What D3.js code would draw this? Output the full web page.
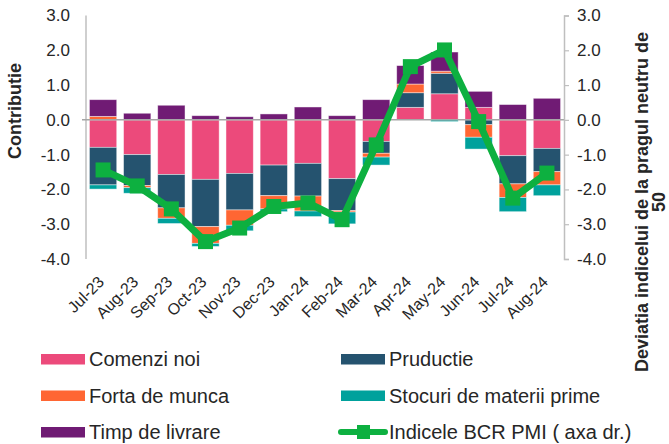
<!DOCTYPE html>
<html>
<head>
<meta charset="utf-8">
<script src="https://cdn.jsdelivr.net/npm/d3@7"></script>
<style>
    body { margin: 0; background: #fff; }
    svg text { font-family: "Liberation Sans", Arial, sans-serif; fill: #262626; }
</style>
</head>
<body>
<svg id="chart" width="669" height="444"></svg>
<script>
// date
var months = ['Jul-23', 'Aug-23', 'Sep-23', 'Oct-23', 'Nov-23', 'Dec-23', 'Jan-24',
    'Feb-24', 'Mar-24', 'Apr-24', 'May-24', 'Jun-24', 'Jul-24', 'Aug-24'];
var comenzi   = [-0.79, -1.00, -1.57, -1.71, -1.54, -1.30, -1.25, -1.69, -0.62, 0.36, 0.75, 0.36, -1.03, -0.82];
var productie = [-1.08, -0.89, -0.96, -1.36, -1.05, -0.88, -0.94, -0.92, -0.34, 0.42, 0.59, -0.14, -0.81, -0.67];
var forta     = [0.10, -0.06, -0.30, -0.48, -0.44, -0.38, -0.43, -0.04, -0.11, 0.25, 0.06, -0.36, -0.39, -0.38];
var stocuri   = [-0.12, -0.16, -0.15, -0.09, -0.16, -0.08, -0.16, -0.34, -0.23, 0.00, -0.05, -0.34, -0.41, -0.31];
var timp      = [0.48, 0.19, 0.42, 0.12, 0.09, 0.17, 0.37, 0.12, 0.58, 0.53, 0.55, 0.46, 0.44, 0.62];
var pmi       = [-1.44, -1.90, -2.56, -3.50, -3.11, -2.49, -2.39, -2.87, -0.72, 1.53, 2.01, -0.05, -2.25, -1.53];
var y_ticks = [3, 2, 1, 0, -1, -2, -3, -4];

var series = [
    {key: 'comenzi', name: 'Comenzi noi', values: comenzi, color: '#EC4A7B'},
    {key: 'productie', name: 'Pruductie', values: productie, color: '#25536F'},
    {key: 'forta', name: 'Forta de munca', values: forta, color: '#FF6633'},
    {key: 'stocuri', name: 'Stocuri de materii prime', values: stocuri, color: '#00A19C'},
    {key: 'timp', name: 'Timp de livrare', values: timp, color: '#701B74'}
];
var green = '#0DB040';

var svg = d3.select('#chart');
var left_x = 86, right_x = 564;

// format cu cratima normala, nu semnul minus unicode
var fmt = function(d) { return d.toFixed(1); };

var x = d3.scaleBand()
    .domain(months)
    .range([left_x, right_x])
    .paddingInner(0.2)
    .paddingOuter(0.1);
var y = d3.scaleLinear()
    .domain([-4, 3])
    .range([259, 15.5]);

// tabel pentru stack
var table = months.map(function(m, i) {
    var row = {month: m};
    series.forEach(function(s) { row[s.key] = s.values[i]; });
    return row;
});
var stacked = d3.stack()
    .keys(series.map(function(s) { return s.key; }))
    .offset(d3.stackOffsetDiverging)(table);

// bare
svg.append('g')
    .selectAll('g')
    .data(stacked)
    .enter()
    .append('g')
    .attr('fill', function(d, i) { return series[i].color; })
    .selectAll('rect')
    .data(function(d) { return d; })
    .enter()
    .append('rect')
    .attr('x', function(d) { return x(d.data.month); })
    .attr('width', x.bandwidth())
    .attr('y', function(d) { return y(Math.max(d[0], d[1])); })
    .attr('height', function(d) { return Math.abs(y(d[0]) - y(d[1])); })
    .attr('stroke', '#fff')
    .attr('stroke-opacity', 0.55)
    .attr('stroke-width', 0.8);

// axe
svg.append('line')
    .attr('x1', left_x).attr('x2', left_x)
    .attr('y1', y(3)).attr('y2', y(-4))
    .attr('stroke', '#BFBFBF').attr('stroke-width', 1.5);
svg.append('line')
    .attr('x1', 82).attr('x2', right_x)
    .attr('y1', y(0)).attr('y2', y(0))
    .attr('stroke', '#A6A6A6').attr('stroke-width', 1.5);

var right_axis = svg.append('g')
    .attr('transform', 'translate(' + right_x + ',0)')
    .call(d3.axisRight(y).tickValues(y_ticks).tickSize(5).tickFormat(fmt));
right_axis.select('.domain').attr('stroke', '#BFBFBF').attr('stroke-width', 1.5);
right_axis.selectAll('.tick line').attr('stroke', '#BFBFBF').attr('stroke-width', 1.2);
right_axis.selectAll('.tick text')
    .attr('x', 13)
    .style('font-size', '17px')
    .style('font-family', '"Liberation Sans", Arial, sans-serif')
    .attr('fill', '#262626');

// etichete axa stanga
svg.append('g')
    .selectAll('text')
    .data(y_ticks)
    .enter()
    .append('text')
    .attr('x', 70)
    .attr('y', function(d) { return y(d); })
    .attr('dy', '0.35em')
    .attr('text-anchor', 'end')
    .style('font-size', '17px')
    .text(fmt);

// etichete luni, rotite
svg.append('g')
    .selectAll('text')
    .data(months)
    .enter()
    .append('text')
    .attr('transform', function(d) {
        return 'translate(' + (x(d) + x.bandwidth() / 2 + 2) + ',283) rotate(-45)';
    })
    .attr('text-anchor', 'end')
    .style('font-size', '16px')
    .text(function(d) { return d; });

// titluri axe
svg.append('text')
    .attr('transform', 'translate(21,111) rotate(-90)')
    .attr('text-anchor', 'middle')
    .style('font-size', '18px')
    .style('font-weight', 'bold')
    .text('Contributie');
var right_title = svg.append('text')
    .attr('transform', 'translate(648,202) rotate(-90)')
    .attr('text-anchor', 'middle')
    .style('font-size', '18px')
    .style('font-weight', 'bold');
right_title.append('tspan').attr('x', 0).attr('dy', 0).text('Deviatia indicelui de la pragul neutru de');
right_title.append('tspan').attr('x', 0).attr('dy', 16.5).text('50');

// linia PMI
var line = d3.line()
    .x(function(d, i) { return x(months[i]) + x.bandwidth() / 2; })
    .y(function(d) { return y(d); });
svg.append('path')
    .datum(pmi)
    .attr('d', line)
    .attr('fill', 'none')
    .attr('stroke', green)
    .attr('stroke-width', 7)
    .attr('stroke-linejoin', 'round');
var sq = 15;
svg.append('g')
    .selectAll('rect')
    .data(pmi)
    .enter()
    .append('rect')
    .attr('x', function(d, i) { return x(months[i]) + x.bandwidth() / 2 - sq / 2; })
    .attr('y', function(d) { return y(d) - sq / 2; })
    .attr('width', sq)
    .attr('height', sq)
    .attr('fill', green);

// legenda
var legend_items = [
    series[0], series[1], series[2], series[3], series[4],
    {name: 'Indicele BCR PMI ( axa dr.)', color: green, line: true}
];
var legend = svg.append('g')
    .selectAll('g')
    .data(legend_items)
    .enter()
    .append('g')
    .attr('transform', function(d, i) {
        return 'translate(' + (i % 2 == 0 ? 41 : 341) + ',' + (359 + 36.5 * Math.floor(i / 2)) + ')';
    });
legend.each(function(d) {
    var g = d3.select(this);
    if(d.line) {
        g.append('line')
            .attr('x1', 0).attr('x2', 44)
            .attr('stroke', d.color)
            .attr('stroke-width', 6)
            .attr('stroke-linecap', 'round');
        g.append('rect')
            .attr('x', 16).attr('y', -7)
            .attr('width', 13).attr('height', 14)
            .attr('fill', d.color);
    } else {
        g.append('rect')
            .attr('x', 0).attr('y', -5)
            .attr('width', 44).attr('height', 10.5)
            .attr('fill', d.color);
    }
});
legend.append('text')
    .attr('x', 48)
    .attr('dy', '0.36em')
    .style('font-size', '20px')
    .text(function(d) { return d.name; });
</script>
</body>
</html>
